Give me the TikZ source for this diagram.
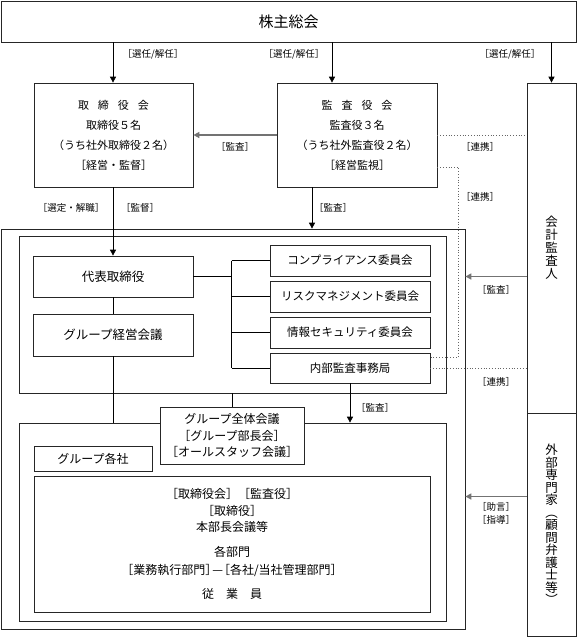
\documentclass[tikz,border=0pt]{standalone}
\usepackage{fontspec}
\setmainfont{Noto Sans CJK JP}
\usepackage{tikz}
\usetikzlibrary{arrows.meta}

\tikzset{
  box/.style={draw=black!85, line width=0.7pt, inner sep=0pt, align=center},
  lbl/.style={font=\fontsize{9.5}{10}\selectfont, inner sep=1pt},
  arr/.style={-{Triangle[length=6pt,width=6pt]}, line width=0.7pt},
  grayarr/.style={-{Triangle[length=6pt,width=6pt]}, draw=black!55, line width=1.4pt},
  link/.style={dotted, draw=black!60, line width=0.8pt}
}

\begin{document}
\begin{tikzpicture}[x=1pt, y=-1pt, line width=0.7pt]
  \useasboundingbox (0,0) rectangle (577,637);
  \def\sp{\hspace{9pt}}

  \node[box, minimum width=575pt, minimum height=41pt, font=\fontsize{15}{18}\selectfont] (gm) at (288.5,21.5) {株主総会};

  \node[box, minimum width=159pt, minimum height=104pt, font=\fontsize{11}{20}\selectfont] (board) at (113.5,135)
    {取\sp 締\sp 役\sp 会\\取締役５名\\（うち社外取締役２名）\\［経営・監督］};
  \node[box, minimum width=160pt, minimum height=104pt, font=\fontsize{11}{20}\selectfont] (kansa) at (357,135)
    {監\sp 査\sp 役\sp 会\\監査役３名\\（うち社外監査役２名）\\［経営監視］};

  % right column
  \node[box, minimum width=49pt, minimum height=330pt, font=\fontsize{12.5}{13}\selectfont] (auditor) at (551.5,248)
    {会\\計\\監\\査\\人};
  \node[box, minimum width=49pt, minimum height=223pt, font=\fontsize{12.5}{12.5}\selectfont] (expert) at (551.5,524.5)
    {外\\部\\専\\門\\家\\︵\\顧\\問\\弁\\護\\士\\等\\︶};

  % group
  \node[box, minimum width=464pt, minimum height=400pt] (grp) at (233,429) {};
  \node[box, minimum width=427pt, minimum height=157pt] (mgmt) at (232.5,314.5) {};
  \node[box, minimum width=160pt, minimum height=41pt, font=\fontsize{12.5}{14}\selectfont] (ceo) at (113,276.5) {代表取締役};
  \node[box, minimum width=160pt, minimum height=42pt, font=\fontsize{12.5}{14}\selectfont] (gmc) at (113,335) {グループ経営会議};

  \node[box, minimum width=160pt, minimum height=31pt, font=\fontsize{11.5}{13}\selectfont] (c1) at (350,260.5) {コンプライアンス委員会};
  \node[box, minimum width=160pt, minimum height=31pt, font=\fontsize{11.5}{13}\selectfont] (c2) at (350,296.5) {リスクマネジメント委員会};
  \node[box, minimum width=160pt, minimum height=31pt, font=\fontsize{11.5}{13}\selectfont] (c3) at (350,332.5) {情報セキュリティ委員会};
  \node[box, minimum width=160pt, minimum height=30pt, font=\fontsize{11.5}{13}\selectfont] (c4) at (350,368) {内部監査事務局};

  \node[box, minimum width=427pt, minimum height=198pt] (subs) at (232.5,522) {};
  \node[box, fill=white, minimum width=144pt, minimum height=57pt, font=\fontsize{12}{16.5}\selectfont] (allhands) at (232,435.5)
    {グループ全体会議\\［グループ部長会］\\［オールスタッフ会議］};
  \node[box, minimum width=118pt, minimum height=25pt, font=\fontsize{12}{14}\selectfont] (co) at (93,458.5) {グループ各社};
  \node[box, minimum width=396pt, minimum height=136pt, font=\fontsize{12}{16.5}\selectfont] (body) at (232,544)
    {［取締役会］［監査役］\\［取締役］\\本部長会議等\\[8pt]各部門\\[1.5pt]［業務執行部門］\kern-5pt—\kern-5pt［各社/当社管理部門］\\[7.5pt]従　業　員};

  % arrows from the meeting
  \draw[arr] (gm.south -| ceo.north) -- (ceo.north |- board.north);
  \draw[arr] ([xshift=-25pt]kansa.north |- gm.south) -- ([xshift=-25pt]kansa.north);
  \draw[arr] (gm.south -| auditor.north) -- (auditor.north);
  \node[lbl] (sel1) at (153,54) {［選任/解任］};
  \node[lbl] (sel2) at (294,54) {［選任/解任］};
  \node[lbl] (sel3) at (510,54) {［選任/解任］};

  \draw[grayarr] (kansa.west) -- (board.east);
  \node[lbl] (aud1) at (235,147) {［監査］};
  \draw[link] (kansa.east) -- (kansa.east -| auditor.west);
  \node[lbl] (lk1) at (480,147) {［連携］};
  \draw[link] ([yshift=-32pt]kansa.east) -| ([xshift=28pt,yshift=11pt]c4.east) -- ([yshift=11pt]c4.east);
  \node[lbl] (lk2) at (480,197) {［連携］};

  \draw[arr] (ceo.north |- board.south) -- (ceo.north);
  \node[lbl] (sel4) at (71,208) {［選定・解職］};
  \node[lbl] (sup1) at (140,208) {［監督］};
  \draw[arr] ([xshift=-45pt]kansa.south) -- ([xshift=-45pt]kansa.south |- grp.north);
  \node[lbl] (aud2) at (333,208) {［監査］};

  % inside the group
  \draw (ceo) -- (gmc);
  \draw (gmc.south) -- (gmc.south |- subs.north);
  \coordinate (b1) at ([xshift=-38pt]c1.west);
  \coordinate (b4) at ([xshift=-38pt]c4.west);
  \draw (b1) -- (b4);
  \draw (b1) -- (c1.west);
  \draw (c2.west -| b1) -- (c2.west);
  \draw (c3.west -| b1) -- (c3.west);
  \draw (b4) -- (c4.west);
  \draw (ceo.east) -- (ceo.east -| b1);
  \draw (allhands.north |- mgmt.south) -- (allhands.north);
  \draw[arr] (c4.south) -- (c4.south |- subs.north);
  \node[lbl] (aud3) at (375,408) {［監査］};

  % outside experts
  \draw[grayarr] (auditor.west |- ceo.east) -- (grp.east |- ceo.east);
  \node[lbl] (aud4) at (496,290) {［監査］};
  \draw[link] (c4.east) -- (c4.east -| auditor.west);
  \node[lbl] (lk3) at (496,382) {［連携］};
  \draw[grayarr] ([yshift=28pt]expert.west) -- ([yshift=28pt]expert.west -| grp.east);
  \node[lbl] (adv1) at (496,507) {［助言］};
  \node[lbl] (adv2) at (496,520) {［指導］};
\end{tikzpicture}
\end{document}
